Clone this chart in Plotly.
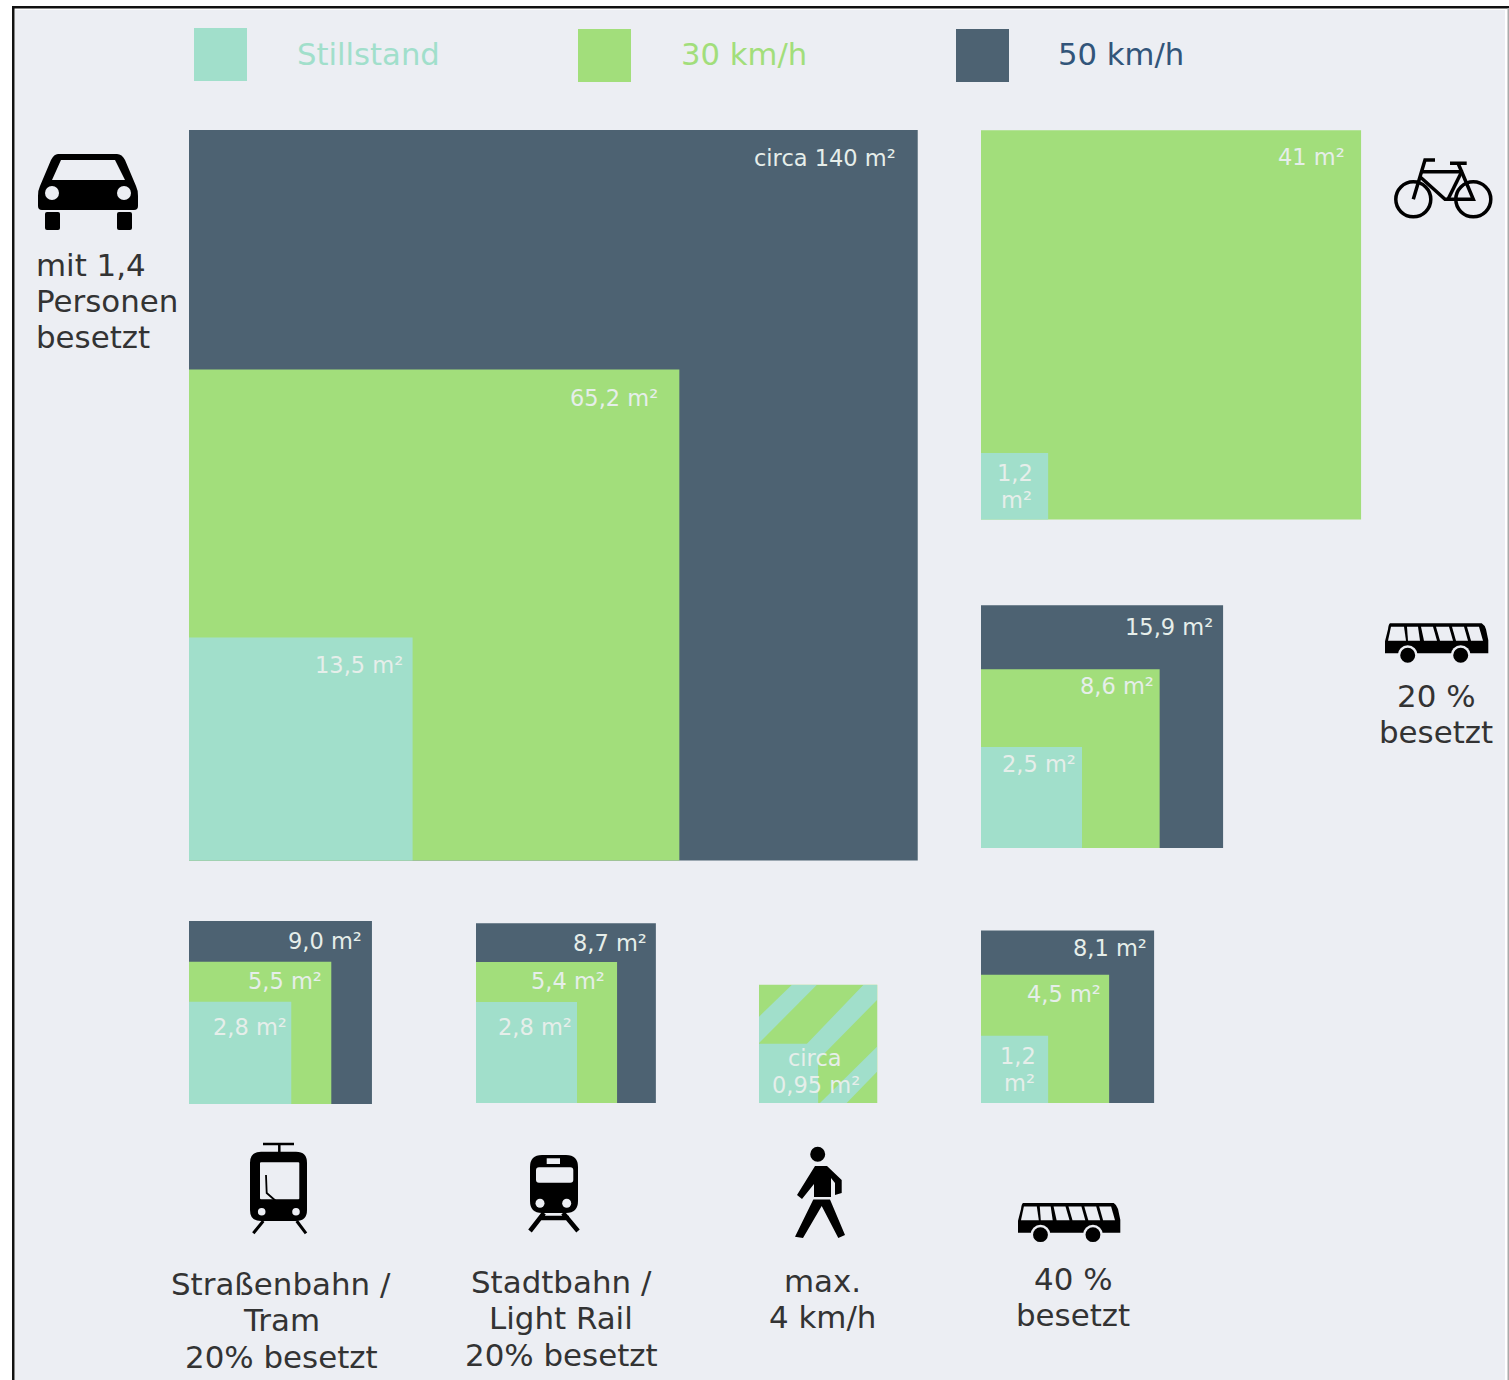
import plotly.graph_objects as go

# ---------- data ----------
groups = ["Auto", "Fahrrad", "Bus 20 %", "Straßenbahn", "Stadtbahn", "Fußgänger", "Bus 40 %"]
series_names = ["50 km/h", "30 km/h", "Stillstand"]

labels_50 = ["circa 140 m²", None, "15,9 m²", "9,0 m²", "8,7 m²", None, "8,1 m²"]
labels_30 = ["65,2 m²", "41 m²", "8,6 m²", "5,5 m²", "5,4 m²", None, "4,5 m²"]
labels_0 = ["13,5 m²", "1,2<br>m²", "2,5 m²", "2,8 m²", "2,8 m²", "circa<br>0,95 m²", "1,2<br>m²"]

# drawn side of each square, metres (width, height)
width_50 = [11.83, None, 3.93, 2.97, 2.92, None, 2.81]
height_50 = [11.86, None, 3.94, 2.97, 2.92, None, 2.80]
width_30 = [7.96, 6.17, 2.90, 2.31, 2.29, 1.92, 2.08]
height_30 = [7.97, 6.32, 2.90, 2.31, 2.29, 1.92, 2.08]
width_0 = [3.63, 1.09, 1.64, 1.66, 1.64, 0.96, 1.09]
height_0 = [3.62, 1.08, 1.64, 1.66, 1.64, 0.96, 1.09]

legend_labels = ["Stillstand", "30 km/h", "50 km/h"]

# ---------- style and layout ----------
PX_PER_M = 61.6
W, H = 1509, 1380
BG = "#ECEEF3"
NAVY = "#4D6272"
GREEN = "#A2DE7B"
TEAL = "#A1DFCB"
INK = "#333333"
LIGHT = "#E6EEEA"
FONT = "DejaVu Sans"

left_px = [189, 981, 981, 189, 476, 759, 981]
bottom_px = [860.5, 519.5, 848, 1104, 1103, 1103, 1103]


def bars(name, widths, heights, colour):
    xs, ys, bases, ws = [], [], [], []
    for left, bottom, w, h in zip(left_px, bottom_px, widths, heights):
        if w is None:
            continue
        wp, hp = w * PX_PER_M, h * PX_PER_M
        xs.append(left + wp / 2)
        ws.append(wp)
        ys.append(hp)
        bases.append(bottom - hp)
    return go.Bar(name=name, x=xs, y=ys, base=bases, width=ws,
                  marker=dict(color=colour, line=dict(width=0)), showlegend=False, hoverinfo="skip")


fig = go.Figure()
fig.add_trace(bars(series_names[0], width_50, height_50, NAVY))
fig.add_trace(bars(series_names[1], width_30, height_30, GREEN))
fig.add_trace(bars(series_names[2], width_0, height_0, TEAL))

# legend swatches
swatch_x = [194, 578, 956]
swatch_y = [28, 29, 29]
swatch_colours = [TEAL, GREEN, NAVY]
fig.add_trace(go.Bar(x=[x + 26.5 for x in swatch_x], y=[53, 53, 53], base=swatch_y, width=[53, 53, 53],
                     marker=dict(color=swatch_colours, line=dict(width=0)), showlegend=False, hoverinfo="skip"))

shapes = []
annotations = []


def text(s, x, y, size, colour, anchor="center"):
    annotations.append(dict(text=s, x=x, y=y, xref="x", yref="y", showarrow=False, xanchor=anchor,
                            yanchor="middle", align=anchor, borderpad=0,
                            font=dict(family=FONT, size=size, color=colour)))


def path(d, fill="black", line=None, width=0):
    shapes.append(dict(type="path", path=d, xref="x", yref="y", layer="above", fillcolor=fill,
                       line=dict(color=line or fill, width=width)))


def stroke(d, width=3, colour="black"):
    shapes.append(dict(type="path", path=d, xref="x", yref="y", layer="above",
                       line=dict(color=colour, width=width)))


def circle(cx, cy, r, fill="black", line=None, width=0):
    shapes.append(dict(type="circle", x0=cx - r, x1=cx + r, y0=cy - r, y1=cy + r, xref="x", yref="y",
                       layer="above", fillcolor=fill, line=dict(color=line or fill, width=width)))


def rrect(x0, y0, x1, y1, r):
    return (f"M{x0+r},{y0} L{x1-r},{y0} Q{x1},{y0} {x1},{y0+r} L{x1},{y1-r} Q{x1},{y1} {x1-r},{y1} "
            f"L{x0+r},{y1} Q{x0},{y1} {x0},{y1-r} L{x0},{y0+r} Q{x0},{y0} {x0+r},{y0} Z")


# page frame
shapes.append(dict(type="rect", x0=15, x1=1505, y0=10, y1=H, xref="x", yref="y", layer="below",
                   fillcolor=BG, line=dict(width=0)))
shapes.append(dict(type="rect", x0=12, x1=14.5, y0=6, y1=H, xref="x", yref="y", layer="below",
                   fillcolor="#111111", line=dict(width=0)))
shapes.append(dict(type="rect", x0=12, x1=W, y0=6, y1=8.5, xref="x", yref="y", layer="below",
                   fillcolor="#111111", line=dict(width=0)))
shapes.append(dict(type="rect", x0=1507.5, x1=W, y0=8, y1=H, xref="x", yref="y", layer="below",
                   fillcolor="#AAAAAA", line=dict(width=0)))

# pedestrian stripes
for d in ["M791.7,985 L816.7,985 L759,1043 L759,1016.7 Z",
          "M863.3,985 L877,985 L877,1000 L818,1060 L818,1044 L806.7,1044 Z",
          "M877,1046.7 L877,1071.7 L846.7,1103 L820,1103 Z"]:
    path(d, TEAL)

# car
path("M58,154 L117,154 Q122,154 125,160 L136,186 Q138,190 138,196 L138,206 Q138,210 134,210 L42,210 Q38,210 38,206 "
     "L38,196 Q38,190 40,186 L51,160 Q54,154 58,154 Z "
     "M61,160 L115,160 L125,180 L52,180 Z")
circle(52, 193, 7, BG)
circle(124, 193, 7, BG)
path(rrect(45, 212, 60, 230, 2))
path(rrect(117, 212, 132, 230, 2))

# bicycle
circle(1413.3, 199.3, 17.5, "rgba(0,0,0,0)", "black", 3.5)
circle(1473.3, 199.3, 17.5, "rgba(0,0,0,0)", "black", 3.5)
stroke("M1435,160 L1425,160 L1413.3,199.3", 3.5)
stroke("M1421.7,171.7 L1461.7,171.7 L1473.3,199.3 L1445,199.3 L1420,176.7", 3.5)
stroke("M1461.7,171.7 L1448,199.3", 3.5)
stroke("M1450,163.3 L1466.7,163.3 M1458,163.3 L1461.7,171.7", 3.5)


# bus
def bus(ox, oy, k=1.0):
    def p(x, y):
        return f"{ox + k * x:.1f},{oy + k * y:.1f}"
    path(f"M{p(5,0)} L{p(96.7,0)} Q{p(100,2)} {p(101,6)} L{p(103.3,17)} L{p(103.3,30)} L{p(0,30)} L{p(0,18)} "
         f"L{p(3,6)} Q{p(3.5,1)} {p(5,0)} Z")
    tops = [(6, 19), (22, 33), (36, 48), (51, 64), (67, 79), (82, 94)]
    bots = [(3, 21), (23, 35), (39, 52), (55, 68), (71, 83), (86, 98)]
    for (a, b), (c, e) in zip(tops, bots):
        path(f"M{p(a,3.4)} L{p(b,3.4)} L{p(e,17.4)} L{p(c,17.4)} Z", BG)
    for cx in (22.7, 75.7):
        x, y = ox + k * cx, oy + k * 32
        circle(x, y, 10 * k, BG)
        circle(x, y, 7.5 * k, "black")


bus(1385, 623.3)
bus(1018, 1203, 0.99)

# tram
path(rrect(250, 1151.7, 307, 1221, 11) + " " + rrect(260, 1162.3, 299.3, 1199.3, 1))
stroke("M279.3,1144 L279.3,1152 M263,1144 L294,1144", 2.5)
stroke("M266,1175 L266.7,1193 L276.7,1201.7", 1.8)
circle(261.7, 1211.7, 3.8, BG)
circle(296, 1211.7, 3.8, BG)
stroke("M263.3,1221 L253.3,1233.3 M296.7,1221 L306,1233.3", 3)

# light rail
path(rrect(530, 1155, 578, 1213, 12) + " " + rrect(536, 1167.3, 573.3, 1182.7, 3))
path("M546.7,1158.3 L560,1158.3 L560,1164 L546.7,1164 Z", BG)
circle(540, 1203.3, 4.5, BG)
circle(566.7, 1203.3, 4.5, BG)
stroke("M544,1213 L530,1231 M563,1213 L578,1231 M539,1218 L569,1218", 4.5)

# pedestrian
circle(817.7, 1154.3, 7.5)
path("M815,1166 L827,1166 L841.7,1180 L841.7,1193 L835,1195 L835,1183 L831,1178 L831,1197 L814,1197 L814,1184 "
     "L802,1199 L797,1195 L815,1166 Z")
path("M813.3,1199.5 L830,1199.5 L845,1235 L838.3,1238 L821.7,1206 L803,1238 L795,1236.7 Z")

# texts
legend_x = [296, 680, 1057]
legend_colours = [TEAL, GREEN, "#32557A"]
for s, x, c in zip(legend_labels, legend_x, legend_colours):
    text(s, x, 54, 30.7, c, "left")

right_label_pos = {
    "50": [(897, 158), None, (1214, 627), (363, 941), (648, 943), None, (1148, 948)],
    "30": [(659, 398), (1346, 157), (1155, 686), (323, 981), (606, 981), None, (1102, 994)],
    "0": [(404, 665), None, (1077, 764), (288, 1027), (573, 1027), None, None],
}
for key, labs in (("50", labels_50), ("30", labels_30), ("0", labels_0)):
    for lab, pos in zip(labs, right_label_pos[key]):
        if lab and pos:
            text(lab, pos[0], pos[1], 22.5, LIGHT, "right")
centre_labels = [(labels_0[1], 1015, 486), (labels_0[5], 815, 1071), (labels_0[6], 1018, 1069)]
for lab, x, y in centre_labels:
    top, bot = lab.split("<br>")
    dy = 13.5
    text(top, x, y - dy, 22.5, LIGHT)
    text(bot, x + 1, y + dy, 22.5, LIGHT)

captions = [
    ("mit 1,4", 35, 265, "left"), ("Personen", 35, 301, "left"), ("besetzt", 35, 337, "left"),
    ("20 %", 1436, 696, "center"), ("besetzt", 1436, 732, "center"),
    ("Straßenbahn /", 281, 1284, "center"), ("Tram", 281, 1320, "center"), ("20% besetzt", 281, 1357, "center"),
    ("Stadtbahn /", 561, 1282, "center"), ("Light Rail", 561, 1318, "center"), ("20% besetzt", 561, 1355, "center"),
    ("max.", 822, 1281, "center"), ("4 km/h", 822, 1317, "center"),
    ("40 %", 1073, 1279, "center"), ("besetzt", 1073, 1315, "center"),
]
for s, x, y, a in captions:
    text(s, x, y, 30.9, INK, a)

fig.update_layout(
    width=W, height=H, margin=dict(l=0, r=0, t=0, b=0, pad=0), barmode="overlay",
    paper_bgcolor="white", plot_bgcolor="rgba(0,0,0,0)", showlegend=False,
    xaxis=dict(range=[0, W], visible=False, fixedrange=True),
    yaxis=dict(range=[H, 0], visible=False, fixedrange=True),
    shapes=shapes, annotations=annotations,
)
fig.write_html("out.html", config={"displayModeBar": False},
               post_script="document.body.style.margin='0';document.documentElement.style.overflow='hidden';")
